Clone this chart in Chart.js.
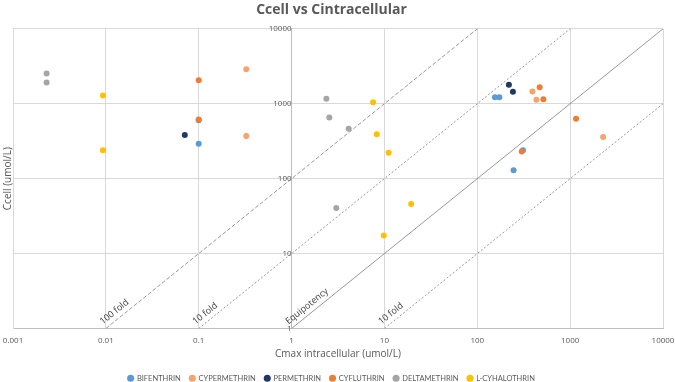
<!DOCTYPE html>
<html>
<head>
<meta charset="utf-8">
<script src="https://cdn.jsdelivr.net/npm/chart.js@4/dist/chart.umd.min.js"></script>
<style>
  html, body { margin: 0; padding: 0; background: #fff; }
  #wrap { width: 675px; height: 382px; }
</style>
</head>
<body>
<div id="wrap"><canvas id="cellChart"></canvas></div>
<script>
// axis ticks
const xTicks = [0.001, 0.01, 0.1, 1, 10, 100, 1000, 10000];
const xTickLabels = ['0.001', '0.01', '0.1', '1', '10', '100', '1000', '10000'];
const yTicks = [1, 10, 100, 1000, 10000];
const yTickLabels = ['1', '10', '100', '1000', '10000'];

// series (x = Cmax intracellular, y = Ccell)
const seriesNames = ['BIFENTHRIN', 'CYPERMETHRIN', 'PERMETHRIN', 'CYFLUTHRIN', 'DELTAMETHRIN', 'L-CYHALOTHRIN'];
const bifenthrinX = [0.1, 0.1, 155, 173, 310, 246];
const bifenthrinY = [600, 293, 1224, 1224, 240, 129];
const cypermethrinX = [0.325, 0.325, 392, 433, 2265];
const cypermethrinY = [2893, 370, 1459, 1130, 359];
const permethrinX = [0.0708, 219, 242];
const permethrinY = [381, 1791, 1445];
const cyfluthrinX = [0.1, 0.1, 470, 515, 1159, 301];
const cyfluthrinY = [2063, 618, 1664, 1151, 631, 231];
const deltamethrinX = [0.0023, 0.0023, 2.37, 2.55, 4.12, 3.03];
const deltamethrinY = [2535, 1923, 1166, 656, 464, 40.5];
const cyhalothrinX = [0.0093, 0.0093, 7.55, 8.26, 11.1, 19.4, 9.83];
const cyhalothrinY = [1291, 240, 1050, 390, 222, 45.8, 17.4];

// reference lines  y = factor * x
const foldFactors = [100, 10, 1, 0.1];
const foldLabels = ['100 fold', '10 fold', 'Equipotency', '10 fold'];

const colors = ['#5b9bd5', '#f4a46c', '#203864', '#ed7d31', '#a5a5a5', '#ffc000'];
const dashes = [[4, 2], [2, 2], [], [2, 2]];

const xMin = 0.001, xMax = 10000, yMin = 1, yMax = 10000;

function toPoints(xs, ys) {
  return xs.map((x, i) => ({ x: x, y: ys[i] }));
}

const seriesX = [bifenthrinX, cypermethrinX, permethrinX, cyfluthrinX, deltamethrinX, cyhalothrinX];
const seriesY = [bifenthrinY, cypermethrinY, permethrinY, cyfluthrinY, deltamethrinY, cyhalothrinY];

const datasets = seriesNames.map((name, i) => ({
  label: name,
  data: toPoints(seriesX[i], seriesY[i]),
  backgroundColor: colors[i],
  borderColor: colors[i],
  pointRadius: 3,
  pointBorderWidth: 0,
  order: 10 - i
}));

foldFactors.forEach((k, i) => {
  const x0 = Math.max(xMin, yMin / k);
  const x1 = Math.min(xMax, yMax / k);
  datasets.push({
    type: 'line',
    label: '_fold' + i,
    data: [{ x: x0, y: k * x0 }, { x: x1, y: k * x1 }],
    borderColor: '#7f7f7f',
    borderWidth: 0.8,
    borderDash: dashes[i],
    pointRadius: 0,
    fill: false,
    order: 100
  });
});

// rotated labels at the bottom end of each reference line
const foldLabelPlugin = {
  id: 'foldLabels',
  afterDatasetsDraw(chart) {
    const { ctx, scales: { x, y } } = chart;
    ctx.save();
    ctx.font = '9px "Open Sans", sans-serif';
    ctx.fillStyle = '#404040';
    ctx.textBaseline = 'alphabetic';
    ctx.textAlign = 'left';
    foldFactors.forEach((k, i) => {
      const x0 = yMin / k;
      const px = x.getPixelForValue(x0);
      const py = y.getPixelForValue(yMin);
      const ang = Math.atan2(y.getPixelForValue(yMin * 10) - py, x.getPixelForValue(x0 * 10) - px);
      ctx.save();
      ctx.translate(px, py);
      ctx.rotate(ang);
      ctx.fillText(foldLabels[i], 0, -5);
      ctx.restore();
    });
    ctx.restore();
  }
};

const tickFont = { family: '"Open Sans", sans-serif', size: 8 };

new Chart(document.getElementById('cellChart'), {
  type: 'scatter',
  data: { datasets: datasets },
  plugins: [foldLabelPlugin],
  options: {
    responsive: true,
    maintainAspectRatio: false,
    animation: false,
    layout: { padding: { left: 0, right: 12, top: 2, bottom: -10 } },
    scales: {
      x: {
        type: 'logarithmic',
        min: xMin,
        max: xMax,
        afterBuildTicks: s => { s.ticks = xTicks.map(v => ({ value: v })); },
        afterFit: s => { s.height = 37; s.paddingLeft = 0; s.paddingRight = 0; },
        ticks: {
          color: '#595959',
          font: tickFont,
          padding: 7,
          maxRotation: 0,
          autoSkip: false,
          callback: (v, i) => xTickLabels[i]
        },
        grid: { color: '#d9d9d9', drawTicks: false },
        border: { color: '#bfbfbf' },
        title: {
          display: true,
          text: 'Cmax intracellular (umol/L)',
          color: '#595959',
          font: { family: '"Open Sans", sans-serif', size: 10 },
          padding: { top: 0, bottom: 5 }
        }
      },
      y: {
        type: 'logarithmic',
        position: 'left',
        min: yMin,
        max: yMax,
        afterBuildTicks: s => { s.ticks = yTicks.map(v => ({ value: v })); },
        afterFit: s => { s.width = 13; s.paddingTop = 0; s.paddingBottom = 0; },
        ticks: { display: false },
        grid: { color: '#d9d9d9', drawTicks: false },
        border: { color: '#d9d9d9' },
        title: {
          display: true,
          text: 'Ccell (umol/L)',
          color: '#595959',
          font: { family: '"Open Sans", sans-serif', size: 10 },
          padding: { top: 2, bottom: 0 }
        }
      },
      yTicks: {
        type: 'logarithmic',
        position: { x: 1 },
        min: yMin,
        max: yMax,
        afterBuildTicks: s => { s.ticks = yTicks.map(v => ({ value: v })); },
        afterFit: s => { s.paddingTop = 0; s.paddingBottom = 0; },
        ticks: {
          color: '#595959',
          font: tickFont,
          padding: 1,
          autoSkip: false,
          callback: (v, i) => yTickLabels[i]
        },
        grid: {
          display: true,
          drawOnChartArea: false,
          drawTicks: true,
          tickLength: 6,
          tickColor: 'rgba(0,0,0,0)'
        },
        border: { display: true, color: '#bfbfbf' }
      }
    },
    plugins: {
      title: {
        display: true,
        text: 'Ccell vs Cintracellular',
        color: '#595959',
        font: { family: '"Open Sans", sans-serif', size: 14, weight: 'bold' },
        padding: { top: 0, bottom: 10 }
      },
      legend: {
        position: 'bottom',
        labels: {
          color: '#595959',
          font: { family: 'Lato, sans-serif', size: 7.5 },
          usePointStyle: true,
          pointStyle: 'circle',
          boxWidth: 5,
          boxHeight: 5,
          padding: 9,
          filter: item => !item.text.startsWith('_'),
          sort: (a, b) => a.datasetIndex - b.datasetIndex
        }
      },
      tooltip: { enabled: false }
    }
  }
});
</script>
</body>
</html>
